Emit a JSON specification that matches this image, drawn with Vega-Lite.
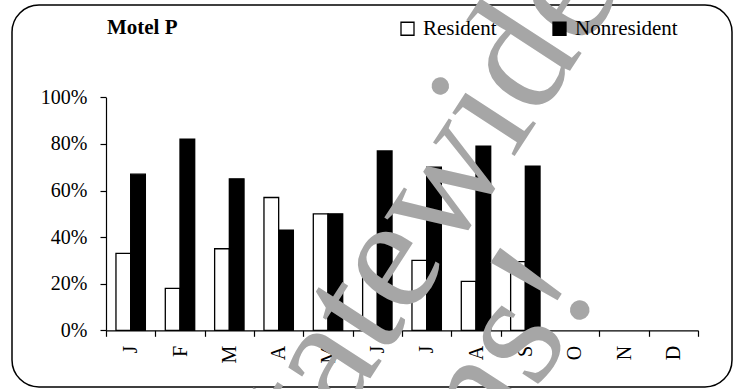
{
  "$schema": "https://vega.github.io/schema/vega-lite/v6.json",
  "width": 720,
  "height": 382,
  "autosize": {"type": "none"},
  "padding": {"left": 12, "top": 5, "right": 8, "bottom": 2},
  "background": "white",
  "datasets": {
    "occupancy": [
      {"month": "Jan", "guest": "Resident", "share": 0.33},
      {"month": "Jan", "guest": "Nonresident", "share": 0.67},
      {"month": "Feb", "guest": "Resident", "share": 0.18},
      {"month": "Feb", "guest": "Nonresident", "share": 0.82},
      {"month": "Mar", "guest": "Resident", "share": 0.35},
      {"month": "Mar", "guest": "Nonresident", "share": 0.65},
      {"month": "Apr", "guest": "Resident", "share": 0.57},
      {"month": "Apr", "guest": "Nonresident", "share": 0.43},
      {"month": "May", "guest": "Resident", "share": 0.5},
      {"month": "May", "guest": "Nonresident", "share": 0.5},
      {"month": "Jun", "guest": "Resident", "share": 0.23},
      {"month": "Jun", "guest": "Nonresident", "share": 0.77},
      {"month": "Jul", "guest": "Resident", "share": 0.3},
      {"month": "Jul", "guest": "Nonresident", "share": 0.7},
      {"month": "Aug", "guest": "Resident", "share": 0.21},
      {"month": "Aug", "guest": "Nonresident", "share": 0.79},
      {"month": "Sep", "guest": "Resident", "share": 0.295},
      {"month": "Sep", "guest": "Nonresident", "share": 0.705}
    ]
  },
  "layer": [
    {
      "data": {"name": "occupancy"},
      "mark": {"type": "bar", "stroke": "black", "strokeWidth": 1.3},
      "encoding": {
        "x": {
          "field": "month",
          "type": "nominal",
          "scale": {
            "domain": ["Jan", "Feb", "Mar", "Apr", "May", "Jun", "Jul", "Aug", "Sep", "Oct", "Nov", "Dec"],
            "range": [94, 686],
            "paddingInner": 0,
            "paddingOuter": 0
          },
          "axis": {
            "title": null,
            "orient": "bottom",
            "offset": -56.7,
            "tickBand": "extent",
            "tickSize": 6,
            "tickColor": "black",
            "domainColor": "black",
            "labelExpr": "substring(datum.label, 0, 1)",
            "labelAngle": -90,
            "labelAlign": "right",
            "labelBaseline": "middle",
            "labelPadding": 9,
            "labelFont": "Liberation Serif",
            "labelFontSize": 20,
            "labelColor": "black"
          }
        },
        "xOffset": {
          "field": "guest",
          "type": "nominal",
          "sort": ["Resident", "Nonresident"],
          "scale": {"paddingInner": 0, "paddingOuter": 0.678}
        },
        "y": {
          "field": "share",
          "type": "quantitative",
          "scale": {"domain": [0, 1], "range": [325.3, 92.3], "nice": false, "zero": true},
          "axis": {
            "title": null,
            "orient": "left",
            "offset": -94,
            "values": [0, 0.2, 0.4, 0.6, 0.8, 1],
            "format": ".0%",
            "grid": false,
            "tickSize": 6,
            "tickColor": "black",
            "domainColor": "black",
            "labelPadding": 13,
            "labelFont": "Liberation Serif",
            "labelFontSize": 20,
            "labelColor": "black"
          }
        },
        "fill": {
          "field": "guest",
          "type": "nominal",
          "sort": ["Resident", "Nonresident"],
          "scale": {"domain": ["Resident", "Nonresident"], "range": ["white", "black"]},
          "legend": {
            "title": null,
            "orient": "none",
            "legendX": 385,
            "legendY": 13,
            "zindex": 0,
            "direction": "horizontal",
            "symbolType": "square",
            "symbolSize": 169,
            "symbolStrokeColor": "black",
            "symbolStrokeWidth": 1.3,
            "labelFont": "Liberation Serif",
            "labelFontSize": 21,
            "labelColor": "black",
            "labelOffset": 5,
            "columnPadding": 52
          }
        }
      }
    },
    {
      "data": {"values": [{"label": "Motel P"}]},
      "mark": {
        "type": "text",
        "font": "Liberation Serif",
        "fontSize": 21,
        "fontWeight": "bold",
        "align": "left",
        "baseline": "alphabetic",
        "color": "black"
      },
      "encoding": {
        "text": {"field": "label"},
        "x": {"datum": "Jan", "bandPosition": 0.02},
        "y": {"datum": 1.272}
      }
    },
    {
      "data": {"values": [{"word": "statewide"}]},
      "mark": {
        "type": "text",
        "font": "Liberation Serif",
        "fontSize": 165,
        "angle": -57,
        "align": "center",
        "baseline": "middle",
        "color": "#a6a6a6"
      },
      "encoding": {
        "text": {"field": "word"},
        "x": {"datum": "Jun", "bandPosition": 1.18},
        "y": {"datum": 0.456}
      }
    },
    {
      "data": {"values": [{"word": "ns!"}]},
      "mark": {
        "type": "text",
        "font": "Liberation Serif",
        "fontSize": 165,
        "angle": -57,
        "align": "right",
        "baseline": "alphabetic",
        "color": "#a6a6a6"
      },
      "encoding": {
        "text": {"field": "word"},
        "x": {"datum": "Nov", "bandPosition": 0.034},
        "y": {"datum": 0.169}
      }
    }
  ],
  "config": {
    "font": "Liberation Serif",
    "view": {"stroke": "black", "strokeWidth": 1.5, "cornerRadius": 27, "fill": "white"},
    "axis": {"domainWidth": 1.2, "tickWidth": 1.2}
  }
}
